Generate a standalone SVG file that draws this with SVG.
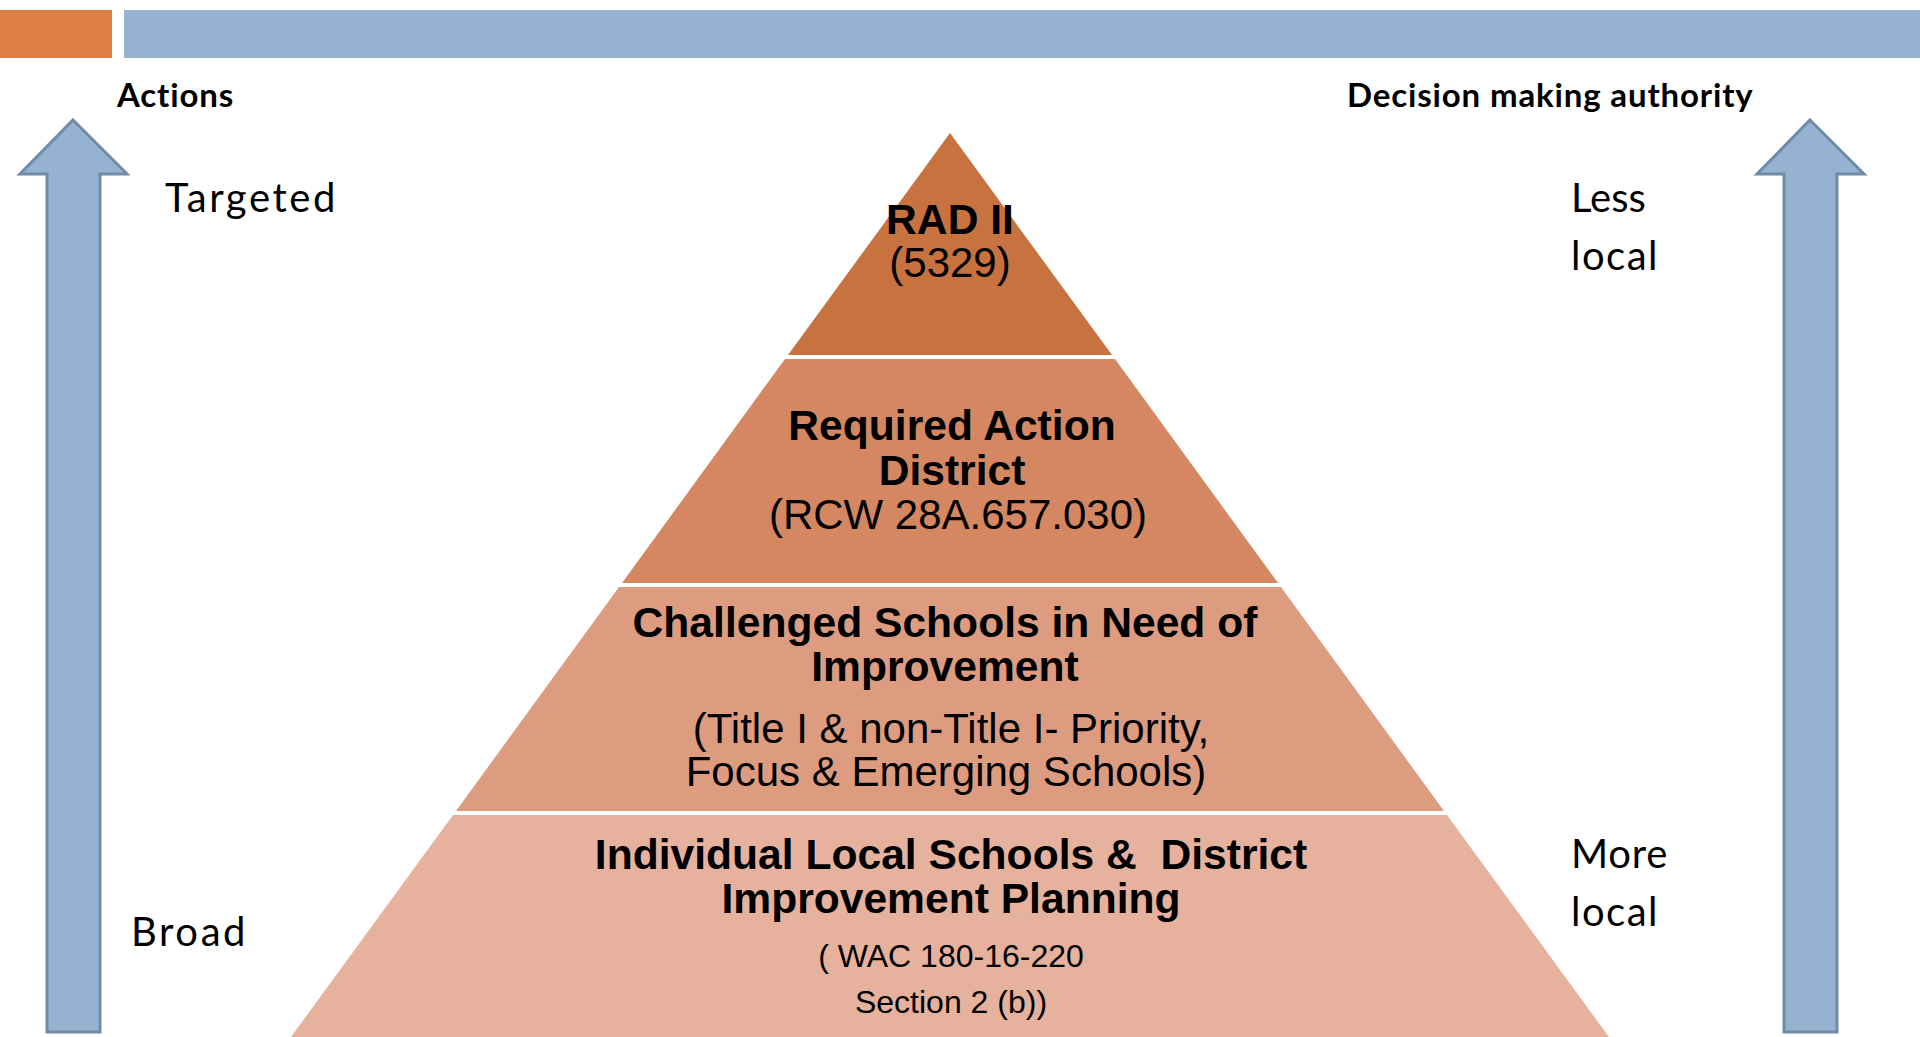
<svg xmlns="http://www.w3.org/2000/svg" width="1920" height="1037" viewBox="0 0 1920 1037">
<style>
.hdr{font-family:Lato,"Liberation Sans",sans-serif;font-weight:bold;font-size:33px;letter-spacing:0.85px;fill:#000}
.side{font-family:Lato,"Liberation Sans",sans-serif;font-size:40px;fill:#000}
.t{font-family:"Liberation Sans",Arial,sans-serif;text-anchor:middle;fill:#000}
.b{font-weight:bold;font-size:42.6px}
.r{font-size:42px}
.s{font-size:32px}
.arrow{fill:#95B3D1;stroke:#6F8BA5;stroke-width:3}
</style>
<rect width="1920" height="1037" fill="#fff"/>
<g id="topbar">
<rect x="0" y="10" width="112" height="48" fill="#E07F45"/>
<rect x="124" y="10" width="1796" height="48" fill="#95B3D1"/>
</g>
<g id="left-arrow">
<path class="arrow" d="M73,120 L127,174 L100,174 L100,1032 L47,1032 L47,174 L20,174 Z"/>
</g>
<g id="right-arrow">
<path class="arrow" d="M1810,120 L1864,174 L1837,174 L1837,1032 L1784,1032 L1784,174 L1757,174 Z"/>
</g>
<g id="labels">
<text class="hdr" x="117" y="107">Actions</text>
<text class="hdr" x="1347" y="107">Decision making authority</text>
<text class="side" x="165" y="212" letter-spacing="2.6">Targeted</text>
<text class="side" x="131" y="946" letter-spacing="2.6">Broad</text>
<text class="side" x="1571" y="212">Less</text>
<text class="side" x="1571" y="270" letter-spacing="1.5">local</text>
<text class="side" x="1571" y="868" letter-spacing="0.8">More</text>
<text class="side" x="1571" y="926" letter-spacing="1.5">local</text>
</g>
<g id="tier1">
<polygon points="950,133 1112,355 788,355" fill="#C87240"/>
<text class="t b" x="950" y="234">RAD II</text>
<text class="t r" x="950" y="277">(5329)</text>
</g>
<g id="tier2">
<polygon points="785,359 1115,359 1278,583 622,583" fill="#D48760"/>
<text class="t b" x="952" y="440">Required Action</text>
<text class="t b" x="952" y="485">District</text>
<text class="t r" x="958" y="529">(RCW 28A.657.030)</text>
</g>
<g id="tier3">
<polygon points="619,587 1281,587 1444,811 456,811" fill="#DD9C7F"/>
<text class="t b" x="945" y="637">Challenged Schools in Need of</text>
<text class="t b" x="945" y="681">Improvement</text>
<text class="t r" x="951" y="743">(Title I &amp; non-Title I- Priority,</text>
<text class="t r" x="946" y="786">Focus &amp; Emerging Schools)</text>
</g>
<g id="tier4">
<polygon points="453,815 1447,815 1609,1037 291,1037" fill="#E7B29D"/>
<text class="t b" x="951" y="869" xml:space="preserve">Individual Local Schools &amp;  District</text>
<text class="t b" x="951" y="913">Improvement Planning</text>
<text class="t s" x="951" y="967">( WAC 180-16-220</text>
<text class="t s" x="951" y="1013">Section 2 (b))</text>
</g>
</svg>
